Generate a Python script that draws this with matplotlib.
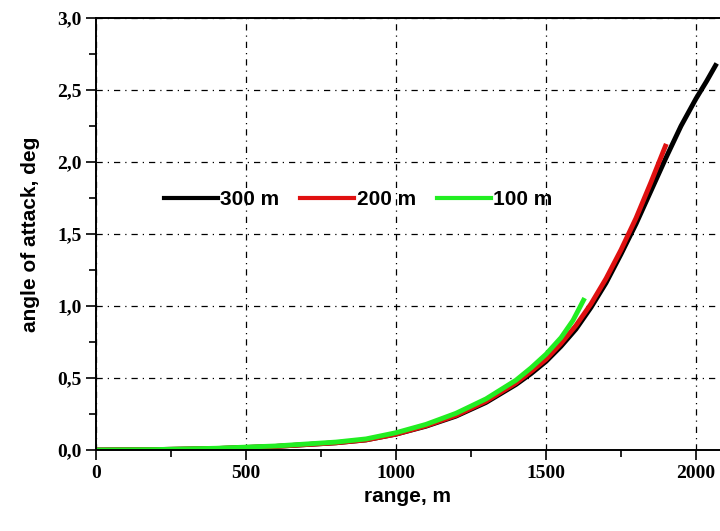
import matplotlib
matplotlib.use('Agg')
import matplotlib.pyplot as plt
from matplotlib.ticker import MultipleLocator, FuncFormatter

# range, m / angle of attack, deg
x300 = [0, 200, 400, 600, 800, 900, 1000, 1100, 1200, 1300, 1400, 1450, 1500, 1550, 1600, 1650, 1700,
        1750, 1800, 1850, 1900, 1950, 2000, 2035, 2065]
y300 = [0.0, 0.003, 0.01, 0.025, 0.05, 0.07, 0.11, 0.165, 0.235, 0.33, 0.455, 0.53, 0.615, 0.72, 0.84,
        0.99, 1.16, 1.36, 1.57, 1.8, 2.03, 2.25, 2.44, 2.56, 2.67]
x200 = [0, 200, 400, 600, 800, 900, 1000, 1100, 1200, 1300, 1400, 1450, 1500, 1550, 1600, 1650, 1700,
        1750, 1800, 1850, 1898]
y200 = [0.0, 0.003, 0.01, 0.025, 0.05, 0.07, 0.11, 0.168, 0.24, 0.338, 0.465, 0.545, 0.63, 0.74, 0.865,
        1.015, 1.19, 1.39, 1.61, 1.86, 2.11]
x100 = [0, 200, 400, 600, 800, 900, 1000, 1100, 1200, 1300, 1400, 1450, 1500, 1550, 1590, 1625]
y100 = [0.0, 0.003, 0.012, 0.028, 0.055, 0.077, 0.12, 0.178, 0.255, 0.355, 0.485, 0.57, 0.665, 0.78,
        0.9, 1.04]

fig = plt.figure(figsize=(7.2, 5.31), dpi=100)
ax = fig.add_axes([96/720, 81/531, 624/720, 432/531])

ax.plot(x300, y300, color='black', lw=3.5, label='300 m')
ax.plot(x200, y200, color='#e01010', lw=3.5, label='200 m')
ax.plot(x100, y100, color='#22ee22', lw=3.5, label='100 m')

ax.set_xlim(0, 2080)
ax.set_ylim(0, 3.0)
ax.xaxis.set_major_locator(MultipleLocator(500))
ax.xaxis.set_minor_locator(MultipleLocator(250))
ax.yaxis.set_major_locator(MultipleLocator(0.5))
ax.yaxis.set_minor_locator(MultipleLocator(0.25))
ax.yaxis.set_major_formatter(FuncFormatter(lambda v, p: ('%.1f' % v).replace('.', ',')))
ax.tick_params(which='major', direction='out', length=7, width=1.2)
ax.tick_params(which='minor', direction='out', length=5, width=1.2)
ax.grid(True, which='major', color='black', linestyle=(0, (5, 4, 1, 4)), lw=0.9)
ax.spines['right'].set_visible(False)
for s in ['left', 'top', 'bottom']:
    ax.spines[s].set_linewidth(1.4)

for lab in ax.get_xticklabels() + ax.get_yticklabels():
    lab.set_family('Liberation Serif')
    lab.set_fontweight('bold')
    lab.set_fontsize(14)

ax.set_xlabel('range, m', fontsize=15, fontweight='bold', family='Liberation Sans', labelpad=4)
ax.set_ylabel('angle of attack, deg', fontsize=15, fontweight='bold', family='Liberation Sans', labelpad=12)

leg = ax.legend(loc='center', bbox_to_anchor=(0.42, 0.58), ncol=3, frameon=False,
                prop={'family': 'Liberation Sans', 'weight': 'bold', 'size': 15},
                handlelength=2.6, handletextpad=0.1, columnspacing=1.0)
for h in leg.get_lines():
    h.set_linewidth(3)

fig.savefig('out.png', dpi=100)
